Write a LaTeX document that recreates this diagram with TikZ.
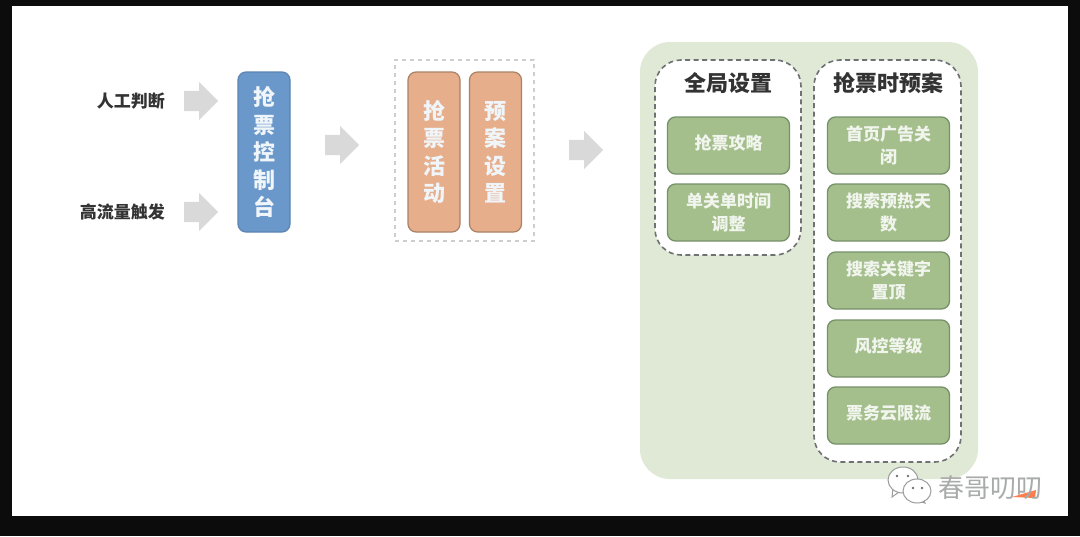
\documentclass[tikz,border=0pt]{standalone}
\usepackage{fontspec}
\setmainfont{Noto Sans CJK SC}
\usetikzlibrary{shapes.arrows,shapes.geometric}
\definecolor{flowblack}{HTML}{0C0C0C}
\definecolor{flowblue}{HTML}{6A98CA}
\definecolor{flowblueline}{HTML}{5B84B2}
\definecolor{floworange}{HTML}{E6AE8B}
\definecolor{floworangeline}{HTML}{A98268}
\definecolor{flowgreen}{HTML}{A4BF8C}
\definecolor{flowgreenline}{HTML}{76906A}
\definecolor{flowpale}{HTML}{DFE9D6}
\definecolor{flowgrey}{HTML}{D9D9D9}
\definecolor{flowdash}{HTML}{6F7172}
\definecolor{flowink}{HTML}{333333}
\tikzset{
  fcol/.style={rounded corners=8pt, line width=1.2pt, align=center, inner sep=0pt,
               text=white!90!flowblue, minimum width=52pt, minimum height=160pt,
               font=\bfseries\fontsize{22}{27.5}\selectfont},
  fctrl/.style={fcol, draw=flowblueline, fill=flowblue},
  fplan/.style={fcol, draw=floworangeline, fill=floworange},
  fitem/.style={rounded corners=8pt, line width=1.3pt, align=center, inner sep=0pt,
                draw=flowgreenline, fill=flowgreen, text=white!85!flowgreen,
                minimum width=122pt, minimum height=57pt,
                font=\bfseries\fontsize{17}{23}\selectfont},
  fpanel/.style={rounded corners=26pt, draw=flowdash, fill=white, line width=1.6pt,
                 dash pattern=on 5pt off 3.5pt, minimum width=146pt},
  fbig/.style={rounded corners=30pt, fill=flowpale, minimum width=338pt, minimum height=437pt},
  fframe/.style={draw=flowgrey!95!black, dash pattern=on 4pt off 4pt, line width=1.1pt,
                 minimum width=139pt, minimum height=181pt},
  fblock/.style={single arrow, fill=flowgrey, inner sep=0pt, anchor=tail, text height=20pt,
                 text depth=0pt, minimum height=34pt, single arrow head extend=9pt},
  flabel/.style={font=\bfseries\fontsize{17}{20}\selectfont, text=flowink, anchor=east, inner sep=0pt},
  ftitle/.style={font=\bfseries\fontsize{22}{26}\selectfont, text=flowink, inner sep=0pt},
  fbubble/.style={draw=flowdash!70, fill=white, line width=1pt},
}
\begin{document}
\begin{tikzpicture}[x=1pt,y=-1pt]
\useasboundingbox (0,0) rectangle (1080,536);
\fill[flowblack] (0,0) rectangle (1080,536);
\fill[white] (12,6) rectangle (1068,516);
% left column
\node[flabel] (manual) at (165,101) {人工判断};
\node[flabel] (traffic) at (165,212) {高流量触发};
\node[fblock] (arrowa) at (184,101) {};
\node[fblock] (arrowb) at (184,212) {};
\node[fctrl] (ctrl) at (264,152) {抢\\票\\控\\制\\台};
\node[fblock] (arrowc) at (325,145) {};
% orange pair
\node[fframe] (frame) at (464.5,150.5) {};
\node[fplan] (act) at (434,152) {抢\\票\\活\\动};
\node[fplan] (plan) at (495.5,152) {预\\案\\设\\置};
\node[fblock] (arrowd) at (569,150) {};
% green block
\node[fbig] (big) at (809,260.5) {};
\node[fpanel,minimum height=195pt] (global) at (728,157.5) {};
\node[fpanel,minimum height=402pt,minimum width=147pt] (during) at (887.5,261) {};
\node[ftitle] (globalt) at (728,83) {全局设置};
\node[ftitle] (duringt) at (888,83) {抢票时预案};
\node[fitem,text depth=6pt] (ga) at (728.5,145.5) {抢票攻略};
\node[fitem] (gb) at (728.5,212.5) {单关单时间\\调整};
\node[fitem] (da) at (888.5,145.5) {首页广告关\\闭};
\node[fitem] (db) at (888.5,212.5) {搜索预热天\\数};
\node[fitem] (dc) at (888.5,280.5) {搜索关键字\\置顶};
\node[fitem,text depth=6pt] (dd) at (888.5,348.5) {风控等级};
\node[fitem,text depth=6pt] (de) at (888.5,415.5) {票务云限流};
% watermark
\fill[orange!55!red!70!white] (1012,497) -- (1036,490) -- (1035,498) -- cycle;
\draw[fbubble] (892,497) -- (893,488) -- (899,492) -- cycle;
\draw[fbubble] (903,480) ellipse [x radius=15,y radius=13];
\draw[fbubble] (925,503) -- (922,497) -- (915,500) -- cycle;
\draw[fbubble] (917,491) ellipse [x radius=14,y radius=12];
\foreach \ex/\ey in {897/476,908/476,913/488,922/488}
  \fill[flowdash] (\ex,\ey) circle (1.4pt);
\node[inner sep=0pt,text=flowdash!60,font=\fontsize{26}{28}\selectfont] (mark) at (990.5,488) {春哥叨叨};
\end{tikzpicture}
\end{document}
